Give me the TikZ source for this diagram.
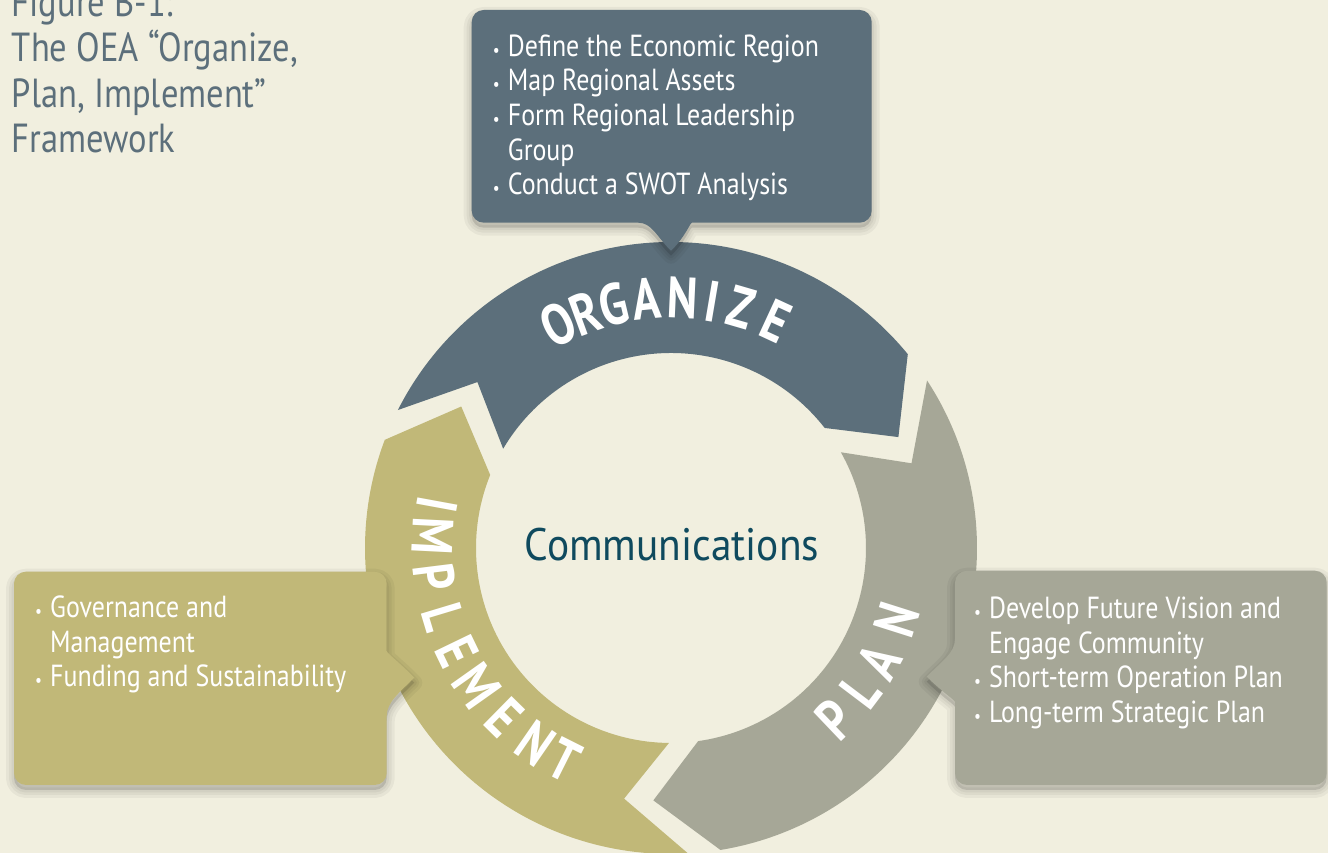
\documentclass[tikz,border=0pt]{standalone}
\usepackage{fontspec}
\setmainfont{PT Sans}[FakeStretch=0.85]
\newfontfamily\ringfont{PT Sans}[FakeStretch=0.8]
\newfontfamily\commfont{PT Sans}[FakeStretch=0.91]
\usetikzlibrary{calc}
\definecolor{bgc}{HTML}{F1EFDF}
\definecolor{slate}{HTML}{5C6F7B}
\definecolor{olive}{HTML}{C1B878}
\definecolor{sage}{HTML}{A6A797}
\definecolor{commteal}{HTML}{0F4A5E}
\newcommand\calloutTop{[rounded corners=12pt] (471.7,843) -- (871.7,843) -- (871.7,630.3) -- (704,630.3) [sharp corners] .. controls (690,630.3) and (686,617) .. (671,602.3) .. controls (656,617) and (652,630.3) .. (638,630.3) [rounded corners=12pt] -- (471.7,630.3) -- cycle}
\newcommand\calloutLeft{[rounded corners=12pt] (14,281.3) -- (386.7,281.3) -- (386.7,214) [sharp corners] .. controls (386.7,200) and (400,190) .. (414.3,175.3) .. controls (400,161) and (386.7,151) .. (386.7,137) [rounded corners=12pt] -- (386.7,68) -- (14,68) -- cycle}
\newcommand\calloutRight{[rounded corners=12pt] (955,282.3) -- (1326.7,282.3) -- (1326.7,68) -- (955,68) -- (955,139) [sharp corners] .. controls (955,153) and (941,162) .. (926.7,176.3) .. controls (941,191) and (955,200) .. (955,214) [rounded corners=12pt] -- cycle}
\newcommand\ringSegment{(153.2:306pt) arc[start angle=153.2,end angle=39.3,radius=306pt] -- (26:253pt) -- (38:195pt) arc[start angle=38,end angle=149.4,radius=195pt] -- (139.4:255pt) -- cycle}
\newcommand\bul{\llap{\makebox[15pt][l]{\fontsize{18}{18}\selectfont\textbullet}}}
\tikzset{
  ringletter/.style={text=white, inner sep=0pt, font=\ringfont\fontsize{58}{58}\selectfont\bfseries},
  listtext/.style={anchor=base west, align=left, inner sep=0pt, text=white, font=\fontsize{30.5}{34.7}\selectfont},
  shadowline/.style={draw=black, draw opacity=0.045, line width=#1, line join=round, yshift=-5pt},
  shadowfill/.style={fill=black, fill opacity=0.12, yshift=-5pt}
}
\begin{document}
\begin{tikzpicture}[x=1pt,y=1pt]
\useasboundingbox (0,0) rectangle (1328,853);
\fill[bgc] (0,0) rectangle (1328,853);

% title (anchor = baseline of last line)
\node[anchor=base west, align=left, inner sep=0pt, text=slate, font=\fontsize{40.6}{45.5}\selectfont] (title) at (11.7,700.3) {Figure B-1:\\The OEA “Organize,\\Plan, Implement”\\Framework};

% ring
\begin{scope}[shift={(671,305)}]
  \fill[slate] \ringSegment;
  \begin{scope}[rotate=-120]
    \fill[sage] \ringSegment;
  \end{scope}
  \begin{scope}[rotate=-240]
    \fill[olive] \ringSegment;
  \end{scope}
  \foreach \ch/\ang [count=\i] in {O/116.8,R/110.1,G/103.3,A/95.7,N/87.4,I/80.4,Z/73.8,E/65.2}
    \node[ringletter, rotate=\ang-90] (org\i) at (\ang:250pt) {\ch};
  \foreach \ch/\ang [count=\i] in {P/-46.4,L/-37.1,A/-28.6,N/-17.6}
    \node[ringletter, rotate=\ang+90] (pla\i) at (\ang:237pt) {\ch};
  \foreach \ch/\ang [count=\i] in {I/169.6,M/177.1,P/187.1,L/196.8,E/205.8,M/215.3,E/225.5,N/235.3,T/243.3}
    \node[ringletter, rotate=\ang+90] (imp\i) at (\ang:238pt) {\ch};
\end{scope}

\node[text=commteal, inner sep=0pt, font=\commfont\fontsize{45.5}{45.5}\selectfont] (comm) at (672,308) {Communications};

% shadows
\foreach \w in {16,10,5} {
  \path[shadowline=\w pt] \calloutTop;
  \path[shadowline=\w pt] \calloutLeft;
  \path[shadowline=\w pt] \calloutRight;
}
\path[shadowfill] \calloutTop;
\path[shadowfill] \calloutLeft;
\path[shadowfill] \calloutRight;

% callouts
\fill[slate] \calloutTop;
\fill[olive] \calloutLeft;
\fill[sage] \calloutRight;

% list texts (anchor = baseline of last line)
\node[listtext] (toptext) at (507.7,658) {\bul Define the Economic Region\\\bul Map Regional Assets\\\bul Form Regional Leadership\\Group\\\bul Conduct a SWOT Analysis};
\node[listtext] (lefttext) at (50,166) {\bul Governance and\\Management\\\bul Funding and Sustainability};
\node[listtext] (righttext) at (989,130.3) {\bul Develop Future Vision and\\Engage Community\\\bul Short-term Operation Plan\\\bul Long-term Strategic Plan};
\end{tikzpicture}
\end{document}
